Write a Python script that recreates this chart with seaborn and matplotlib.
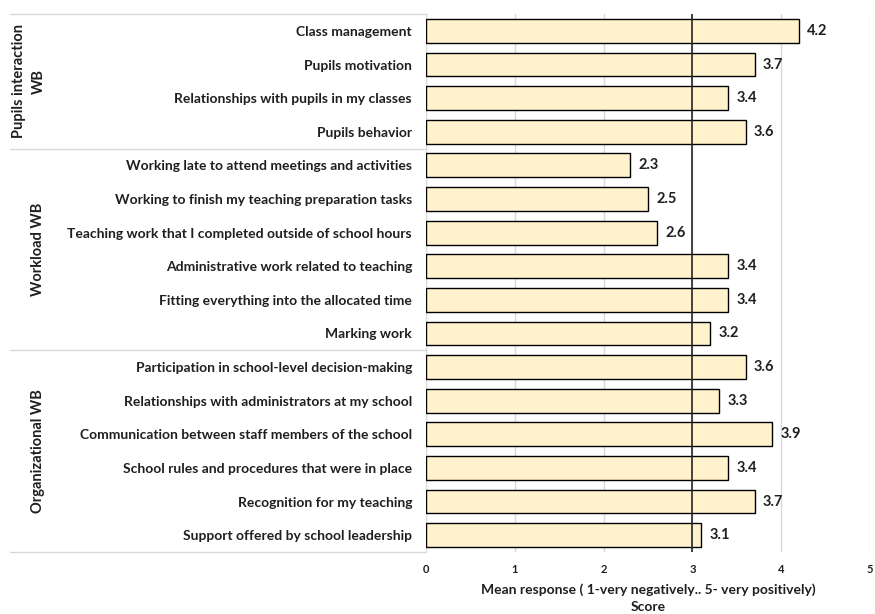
import matplotlib.pyplot as plt
import matplotlib.transforms as mtransforms
import seaborn as sns
import pandas as pd

# Data
items = [
    'Class management',
    'Pupils motivation',
    'Relationships with pupils in my classes',
    'Pupils behavior',
    'Working late to attend meetings and activities',
    'Working to finish my teaching preparation tasks',
    'Teaching work that I completed outside of school hours',
    'Administrative work related to teaching',
    'Fitting everything into the allocated time',
    'Marking work',
    'Participation in school-level decision-making',
    'Relationships with administrators at my school',
    'Communication between staff members of the school',
    'School rules and procedures that were in place',
    'Recognition for my teaching',
    'Support offered by school leadership',
]
scores = [4.2, 3.7, 3.4, 3.6, 2.3, 2.5, 2.6, 3.4, 3.4, 3.2, 3.6, 3.3, 3.9, 3.4, 3.7, 3.1]
groups = ['Pupils interaction\nWB', 'Workload WB', 'Organizational WB']
group_sizes = [4, 6, 6]
reference_score = 3

df = pd.DataFrame({'item': items, 'score': scores})

sns.set_style('white')
plt.rcParams['font.family'] = ['Lato', 'DejaVu Sans']
plt.rcParams['font.weight'] = 'bold'
text_color = '#1f1f1f'

fig = plt.figure(figsize=(8.75, 6.14), dpi=100)
ax = fig.add_axes([426 / 875, 0.101, 444 / 875, 0.876])

sns.barplot(data=df, x='score', y='item', orient='h', color='#FFF2CC',
            edgecolor='black', linewidth=1, width=0.71, saturation=1, ax=ax, zorder=3)

ax.set_xlim(0, 5)
ax.set_ylim(len(items) - 0.5, -0.5)
ax.set_xticks([0, 1, 2, 3, 4, 5])
ax.xaxis.grid(True, color='#d9d9d9', linewidth=1, zorder=0)
ax.axvline(reference_score, color='#262626', linewidth=1.2, zorder=4)

# value labels
for cont in ax.containers:
    ax.bar_label(cont, fmt='%.1f', padding=6, fontsize=10.5, fontweight='bold', color=text_color)

# spines
for side in ['top', 'right', 'bottom']:
    ax.spines[side].set_visible(False)
ax.spines['left'].set_color('#d9d9d9')

ax.tick_params(axis='y', length=0, pad=10, labelsize=10, labelcolor=text_color)
ax.tick_params(axis='x', length=0, pad=9, labelsize=8, labelcolor=text_color)
ax.set_yticks([i - 0.5 for i in range(1, len(items))], minor=True)
ax.tick_params(axis='y', which='minor', direction='out', length=4, color='black', width=1)
ax.set_ylabel('')
ax.set_xlabel('Mean response ( 1-very negatively.. 5- very positively)\nScore',
              fontsize=10, fontweight='bold', color=text_color, labelpad=6, linespacing=1.5)

# group separators and labels on the left
trans = mtransforms.blended_transform_factory(fig.transFigure, ax.transData)
bounds = [-0.5]
for n in group_sizes:
    bounds.append(bounds[-1] + n)
for b in bounds:
    ax.plot([10 / 875, 426 / 875], [b, b], transform=trans, color='#d9d9d9',
            linewidth=1, clip_on=False)
for g, lo, hi in zip(groups, bounds[:-1], bounds[1:]):
    xpos = 29 / 875 if '\n' in g else 38 / 875
    ax.text(xpos, (lo + hi) / 2, g, transform=trans, rotation=90, ha='center', va='center',
            fontsize=10.5, fontweight='bold', color=text_color, linespacing=1.5)

fig.savefig('out.png', dpi=100)
